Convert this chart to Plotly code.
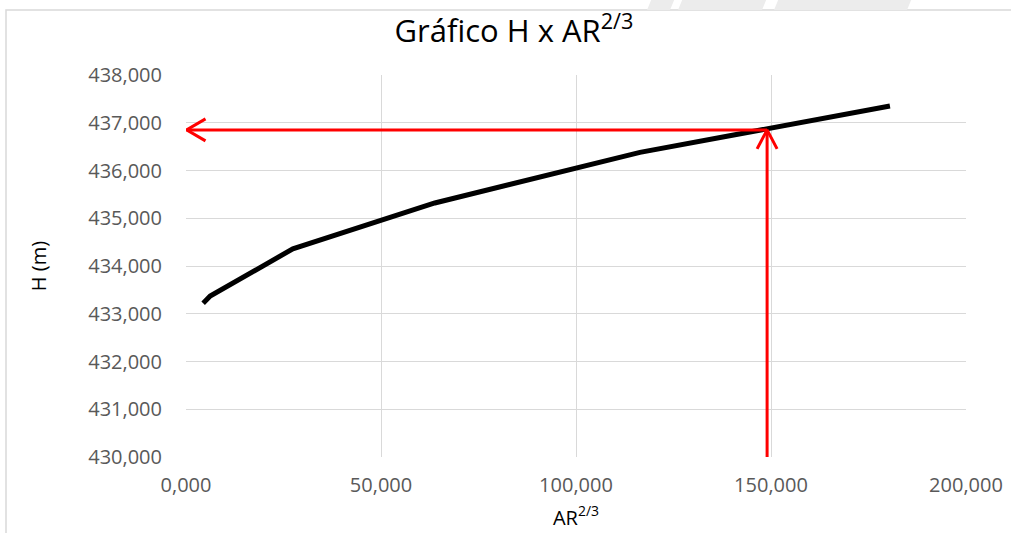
import plotly.graph_objects as go

# Data (H in m, AR^(2/3))
ar23 = [4.4, 6.2, 27.4, 63.8, 116.4, 180.5]
h_m = [433.22, 433.37, 434.36, 435.32, 436.38, 437.35]

# Reading point marked by red arrows
read_ar = 149.0
read_h = 436.85

x_range = [0, 200]
y_range = [430, 438]
x_ticks = [0, 50, 100, 150, 200]
y_ticks = [430, 431, 432, 433, 434, 435, 436, 437, 438]

RED = "#ff0000"
GRID = "#d9d9d9"
TICK = "#595959"

fig = go.Figure()

fig.add_trace(go.Scatter(
    x=ar23, y=h_m, mode="lines",
    line=dict(color="black", width=5), hoverinfo="skip", showlegend=False))

# arrow geometry in data units (from pixel sizes)
px_x = (x_range[1] - x_range[0]) / 780.0
px_y = (y_range[1] - y_range[0]) / 382.0
tip_left = x_range[0] + 0.5 * px_x

# vertical red line + upward chevron
fig.add_trace(go.Scatter(
    x=[read_ar, read_ar, None, read_ar - 10 * px_x, read_ar, read_ar + 10 * px_x],
    y=[y_range[0], read_h, None, read_h - 19 * px_y, read_h, read_h - 19 * px_y],
    mode="lines", line=dict(color=RED, width=3), hoverinfo="skip", showlegend=False))

# horizontal red line + leftward chevron
fig.add_trace(go.Scatter(
    x=[read_ar, tip_left, None, tip_left + 19 * px_x, tip_left, tip_left + 19 * px_x],
    y=[read_h, read_h, None, read_h + 11 * px_y, read_h, read_h - 11 * px_y],
    mode="lines", line=dict(color=RED, width=3), hoverinfo="skip", showlegend=False))

FONT = "Open Sans, Noto Sans, sans-serif"

fig.update_layout(
    width=1011, height=533,
    margin=dict(l=186, r=45, t=75, b=76),
    paper_bgcolor="white", plot_bgcolor="white",
    separators=",.",
    font=dict(family=FONT, color=TICK),
    title=dict(text="Gráfico H x AR<sup>2/3</sup>", x=514 / 1011, xanchor="center",
               y=1 - 31 / 533, yanchor="middle",
               font=dict(family=FONT, size=31, color="black")),
    xaxis=dict(range=x_range, tickvals=x_ticks, tickformat=".3f", automargin=False,
               showgrid=True, gridcolor=GRID, gridwidth=1, zeroline=False,
               showline=False, ticks="", ticklabelstandoff=14,
               tickfont=dict(size=20, color=TICK),
               title=dict(text="AR<sup>2/3</sup>", font=dict(size=20, color="black"), standoff=13)),
    yaxis=dict(range=y_range, tickvals=y_ticks, tickformat=".3f", automargin=False,
               showgrid=True, gridcolor=GRID, gridwidth=1, zeroline=False,
               showline=False, ticks="", ticklabelstandoff=23,
               tickfont=dict(size=20, color=TICK),
               title=dict(text="H (m)", font=dict(size=20, color="black"), standoff=36)),
)

# chart outer border (Excel chart area frame)
fig.add_shape(type="rect", xref="paper", yref="paper",
              x0=(6 - 186) / 780, x1=(1016 - 186) / 780,
              y0=(457 - 540) / 382, y1=(457 - 10) / 382,
              line=dict(color=GRID, width=1.5), fillcolor="rgba(0,0,0,0)", layer="below")

# background watermark stripes at top right
def para(xl, xr, slant):
    y0 = (457 - 10) / 382
    y1 = (457 + 2) / 382
    x0b, x1b = (xl - slant - 186) / 780, (xr - slant - 186) / 780
    x0t, x1t = (xl - 186) / 780, (xr - 186) / 780
    return f"M {x0b} {y0} L {x1b} {y0} L {x1t} {y1} L {x0t} {y1} Z"

for xl, xr in [(652, 675), (683, 767), (779, 912)]:
    fig.add_shape(type="path", xref="paper", yref="paper", path=para(xl, xr, 5),
                  fillcolor="#ececec", line=dict(width=0), layer="below")

fig.write_html(
    "out.html",
    config={"displayModeBar": False},
    post_script="document.body.style.margin='0';document.body.style.overflow='hidden';",
)
